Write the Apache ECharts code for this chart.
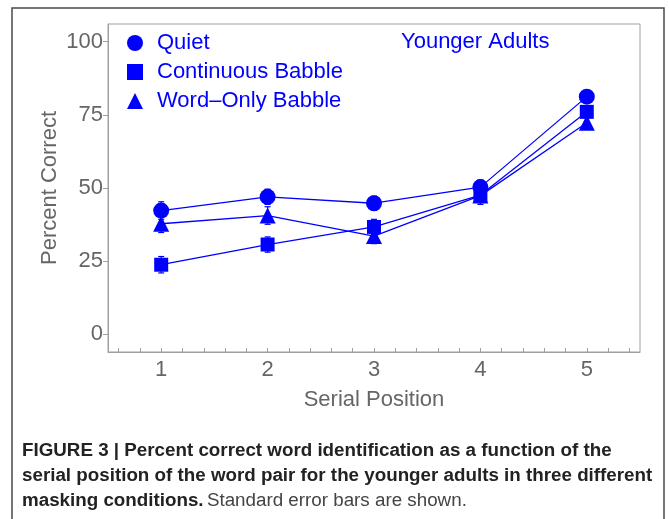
<!DOCTYPE html>
<html>
<head>
    <meta charset="utf-8">
    <title>Percent correct by serial position</title>
    <style>
        html, body { margin: 0; padding: 0; background: #fff; }
        #main { width: 669px; height: 519px; }
    </style>
</head>
<body>
<div id="main"></div>
<script src="https://cdn.jsdelivr.net/npm/echarts@6/dist/echarts.min.js"></script>
<script>
    // serial positions (x) and percent correct (y)
    var positions = [1, 2, 3, 4, 5];
    var quiet = [42.3, 47.0, 44.8, 50.3, 81.2];
    var continuous = [23.8, 30.7, 36.7, 47.6, 76.0];
    var wordOnly = [37.8, 40.6, 33.6, 47.4, 72.3];

    // standard errors
    var quietSE = [3.0, 2.6, 2.4, 2.4, 1.6];
    var continuousSE = [2.8, 2.6, 2.6, 2.6, 2.0];
    var wordOnlySE = [3.0, 3.0, 2.6, 3.0, 2.0];

    var xTickLabels = [1, 2, 3, 4, 5];
    var yTickLabels = [0, 25, 50, 75, 100];

    var blue = '#0000ff';
    var grey = '#666666';
    var capFont = '18.8px Liberation Sans, Arial, sans-serif';

    // small ticks every 0.2 along the bottom
    var xMinorTicks = [];
    for (var t = 6; t <= 54; t += 2) xMinorTicks.push(t / 10);

    function pairs(ys) {
        return positions.map(function (x, i) { return [x, ys[i]]; });
    }
    function bars(ys, se) {
        return positions.map(function (x, i) { return [x, ys[i] - se[i], ys[i] + se[i]]; });
    }

    function renderErr(params, api) {
        var lo = api.coord([api.value(0), api.value(1)]);
        var hi = api.coord([api.value(0), api.value(2)]);
        var cap = 3;
        var style = { stroke: blue, lineWidth: 1.2 };
        return {
            type: 'group',
            children: [
                { type: 'line', shape: { x1: lo[0], y1: lo[1], x2: hi[0], y2: hi[1] }, style: style },
                { type: 'line', shape: { x1: lo[0] - cap, y1: lo[1], x2: lo[0] + cap, y2: lo[1] }, style: style },
                { type: 'line', shape: { x1: hi[0] - cap, y1: hi[1], x2: hi[0] + cap, y2: hi[1] }, style: style }
            ]
        };
    }

    function lineSeries(name, ys, symbol, size) {
        return {
            name: name,
            type: 'line',
            data: pairs(ys),
            symbol: symbol,
            symbolSize: size,
            lineStyle: { color: blue, width: 1.3 },
            itemStyle: { color: blue },
            z: 3,
            animation: false
        };
    }
    function errSeries(ys, se) {
        return {
            type: 'custom',
            renderItem: renderErr,
            data: bars(ys, se),
            z: 2,
            silent: true,
            animation: false
        };
    }

    var myChart = echarts.init(document.getElementById('main'));

    var option = {
        backgroundColor: '#ffffff',
        textStyle: { fontFamily: 'Liberation Sans, Arial, sans-serif' },
        title: {
            text: 'Younger Adults',
            left: 401,
            top: 31,
            padding: 0,
            textStyle: { color: blue, fontSize: 22, fontWeight: 'normal' }
        },
        legend: {
            orient: 'vertical',
            left: 127,
            top: 32,
            padding: 0,
            itemGap: 7,
            itemWidth: 16,
            itemHeight: 16,
            textStyle: { color: blue, fontSize: 22, padding: [0, 0, 0, 9] },
            data: [
                { name: 'Quiet', icon: 'circle' },
                { name: 'Continuous Babble', icon: 'rect' },
                { name: 'Word\u2013Only Babble', icon: 'triangle' }
            ]
        },
        grid: {
            left: 108,
            right: 29,
            top: 24,
            bottom: 167,
            show: true,
            borderColor: '#a0a0a0',
            borderWidth: 1
        },
        xAxis: {
            type: 'value',
            min: 0.5,
            max: 5.5,
            name: 'Serial Position',
            nameLocation: 'middle',
            nameGap: 37,
            nameMoveOverlap: false,
            nameTextStyle: { color: grey, fontSize: 22 },
            axisLine: { onZero: false, lineStyle: { color: '#a0a0a0' } },
            axisTick: { inside: true, length: 4, customValues: xMinorTicks, lineStyle: { color: '#a0a0a0' } },
            axisLabel: { customValues: xTickLabels, color: grey, fontSize: 22, margin: 7 },
            splitLine: { show: false }
        },
        yAxis: {
            type: 'value',
            min: -6,
            max: 106,
            name: 'Percent Correct',
            nameLocation: 'middle',
            nameGap: 47,
            nameMoveOverlap: false,
            nameTextStyle: { color: grey, fontSize: 22 },
            axisLine: { show: true, onZero: false, lineStyle: { color: '#a0a0a0' } },
            axisTick: { show: true, length: 5, customValues: yTickLabels, lineStyle: { color: '#a0a0a0' } },
            axisLabel: { customValues: yTickLabels, color: grey, fontSize: 22, margin: 5 },
            splitLine: { show: false }
        },
        series: [
            errSeries(quiet, quietSE),
            errSeries(continuous, continuousSE),
            errSeries(wordOnly, wordOnlySE),
            lineSeries('Quiet', quiet, 'circle', 16),
            lineSeries('Continuous Babble', continuous, 'rect', 14),
            lineSeries('Word\u2013Only Babble', wordOnly, 'triangle', 16)
        ],
        graphic: [
            {
                type: 'rect',
                shape: { x: 12, y: 8, width: 652, height: 530 },
                style: { fill: null, stroke: '#4a4a4a', lineWidth: 1.5 },
                silent: true
            },
            {
                type: 'text',
                left: 22,
                top: 441,
                style: {
                    text: 'FIGURE 3 | Percent correct word identification as a function of the',
                    font: 'bold ' + capFont,
                    fill: '#222222'
                }
            },
            {
                type: 'text',
                left: 22,
                top: 466,
                style: {
                    text: 'serial position of the word pair for the younger adults in three different',
                    font: 'bold ' + capFont,
                    fill: '#222222'
                }
            },
            {
                type: 'text',
                left: 22,
                top: 491,
                style: {
                    text: '{b|masking conditions.} {n|Standard error bars are shown.}',
                    rich: {
                        b: { font: 'bold ' + capFont, fill: '#222222' },
                        n: { font: capFont, fill: '#444444' }
                    }
                }
            }
        ]
    };
    myChart.setOption(option);
</script>
</body>
</html>
